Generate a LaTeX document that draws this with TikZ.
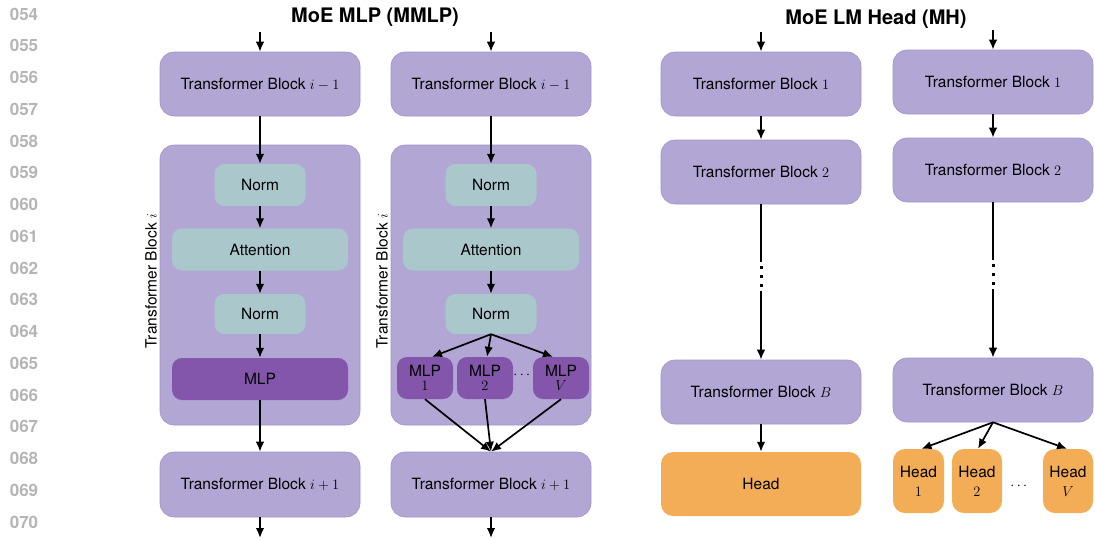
\documentclass[tikz,border=0pt]{standalone}
\usepackage{amsmath}
\usepackage{fontspec}
\setmainfont{TeX Gyre Heros}
\usepackage{tikz}
\usetikzlibrary{arrows.meta}

\definecolor{blocklav}{HTML}{B2A6D4}
\definecolor{blockedge}{HTML}{A393CB}
\definecolor{normteal}{HTML}{AAC7CC}
\definecolor{mlpdark}{HTML}{8356AC}
\definecolor{headorange}{HTML}{F4AD57}
\definecolor{linenum}{HTML}{B5B5B5}

\tikzset{
  lbl/.style={font=\fontsize{15.5}{17}\selectfont},
  block/.style={lbl, rounded corners=14pt, fill=blocklav, draw=blockedge, line width=0.6pt,
    minimum width=200pt, minimum height=64pt},
  inner/.style={lbl, rounded corners=10pt, fill=normteal, minimum height=42pt},
  expert/.style={rounded corners=10pt, fill=mlpdark, minimum width=56pt, minimum height=42pt,
    align=center, inner sep=1pt, font=\fontsize{15.5}{14}\selectfont},
  headbox/.style={rounded corners=12pt, fill=headorange, minimum height=64pt,
    align=center, inner sep=1pt, font=\fontsize{15.5}{19}\selectfont},
  arr/.style={-{Latex[length=10pt,width=8.5pt]}, line width=1.7pt},
  plain/.style={line width=1.7pt},
  dot/.style={fill, minimum size=3pt, inner sep=0pt},
}

\begin{document}
\begin{tikzpicture}[x=1pt,y=-1pt]
  \useasboundingbox (0,0) rectangle (1095,539);

  % line numbers
  \foreach \n [count=\k from 0] in {054,055,056,057,058,059,060,061,062,063,064,065,066,067,068,069,070}
    \node[text=linenum, font=\bfseries\fontsize{17}{17}\selectfont] at (24,14+31.75*\k) {\n};

  \node[font=\bfseries\fontsize{20}{22}\selectfont] (ttlmmlp) at (375,17) {MoE MLP (MMLP)};
  \node[font=\bfseries\fontsize{20}{22}\selectfont] (ttlmh) at (876,19) {MoE LM Head (MH)};

  % MMLP, single MLP
  \coordinate (ina) at (260,32);
  \coordinate (outa) at (260,538);
  \node[block] (tbaprev) at (260,84) {Transformer Block $i-1$};
  \node[block, minimum height=280pt] (blka) at (260,285) {};
  \node[lbl, rotate=90] (lbla) at (151,281) {Transformer Block $i$};
  \node[inner, minimum width=91pt] (norma) at (260,185) {Norm};
  \node[inner, minimum width=176pt] (atta) at (260,249.5) {Attention};
  \node[inner, minimum width=91pt, minimum height=40pt] (normb) at (260,314) {Norm};
  \node[inner, fill=mlpdark, minimum width=176pt] (mlpa) at (260,379) {MLP};
  \node[block, minimum height=65pt] (tbanext) at (260,484.5) {Transformer Block $i+1$};

  \draw[arr] (ina) -- (tbaprev);
  \draw[arr] (tbaprev) -- (norma);
  \draw[arr] (norma) -- (atta);
  \draw[arr] (atta) -- (normb);
  \draw[arr] (normb) -- (mlpa);
  \draw[arr] (mlpa) -- (tbanext);
  \draw[arr] (tbanext) -- (outa);

  % MMLP, V experts
  \coordinate (inb) at (491,32);
  \coordinate (outb) at (491,538);
  \node[block] (tbbprev) at (491,84) {Transformer Block $i-1$};
  \node[block, minimum height=280pt] (blkb) at (491,285) {};
  \node[lbl, rotate=90] (lblb) at (382,281) {Transformer Block $i$};
  \node[inner, minimum width=91pt] (normc) at (491,185) {Norm};
  \node[inner, minimum width=176pt] (attb) at (491,249.5) {Attention};
  \node[inner, minimum width=91pt, minimum height=40pt] (normd) at (491,314) {Norm};
  \node[expert] (mlp1) at (425,378) {MLP\\$1$};
  \node[expert] (mlp2) at (485,378) {MLP\\$2$};
  \node[expert] (mlpv) at (561,378) {MLP\\$V$};
  \node[lbl] (mlpdots) at (523,375) {$\cdots$};
  \node[block, minimum height=65pt] (tbbnext) at (491,484.5) {Transformer Block $i+1$};

  \draw[arr] (inb) -- (tbbprev);
  \draw[arr] (tbbprev) -- (normc);
  \draw[arr] (normc) -- (attb);
  \draw[arr] (attb) -- (normd);
  \draw[arr] (normd.south) -- ([xshift=7pt]mlp1.north);
  \draw[arr] (normd.south) -- ([xshift=2pt]mlp2.north);
  \draw[arr] (normd.south) -- ([xshift=-8pt]mlpv.north);
  \foreach \e in {mlp1,mlp2,mlpv}
    \draw[arr] (\e.south) -- (tbbnext.north);
  \draw[arr] (tbbnext) -- (outb);

  % MH, single head
  \coordinate (inc) at (761,32);
  \node[block] (tbc1) at (761,84) {Transformer Block $1$};
  \node[block] (tbc2) at (761,172) {Transformer Block $2$};
  \node[block] (tbcb) at (761,392) {Transformer Block $B$};
  \node[headbox, minimum width=200pt] (headc) at (761,484) {Head};
  \coordinate (gapc1) at (761,262);
  \coordinate (gapc2) at (761,291);

  \draw[arr] (inc) -- (tbc1);
  \draw[arr] (tbc1) -- (tbc2);
  \draw[plain] (tbc2) -- (gapc1);
  \foreach \y in {267,276,285}
    \node[dot] at (761,\y) {};
  \draw[arr] (gapc2) -- (tbcb);
  \draw[arr] (tbcb) -- (headc);

  % MH, V heads
  \coordinate (ind) at (993,30);
  \node[block] (tbd1) at (993,82) {Transformer Block $1$};
  \node[block] (tbd2) at (993,170) {Transformer Block $2$};
  \node[block] (tbdb) at (993,390) {Transformer Block $B$};
  \node[headbox, minimum width=51pt] (head1) at (918.5,481) {Head\\$1$};
  \node[headbox, minimum width=50pt] (head2) at (977,481) {Head\\$2$};
  \node[headbox, minimum width=50pt] (headv) at (1068,481) {Head\\$V$};
  \node[lbl] (headdots) at (1020,486) {$\cdots$};
  \coordinate (gapd1) at (993,260);
  \coordinate (gapd2) at (993,289);

  \draw[arr] (ind) -- (tbd1);
  \draw[arr] (tbd1) -- (tbd2);
  \draw[plain] (tbd2) -- (gapd1);
  \foreach \y in {265,274,283}
    \node[dot] at (993,\y) {};
  \draw[arr] (gapd2) -- (tbdb);
  \draw[arr] (tbdb.south) -- ([xshift=3pt]head1.north);
  \draw[arr] (tbdb.south) -- ([xshift=1pt]head2.north);
  \draw[arr] (tbdb.south) -- ([xshift=-1pt]headv.north);
\end{tikzpicture}
\end{document}
